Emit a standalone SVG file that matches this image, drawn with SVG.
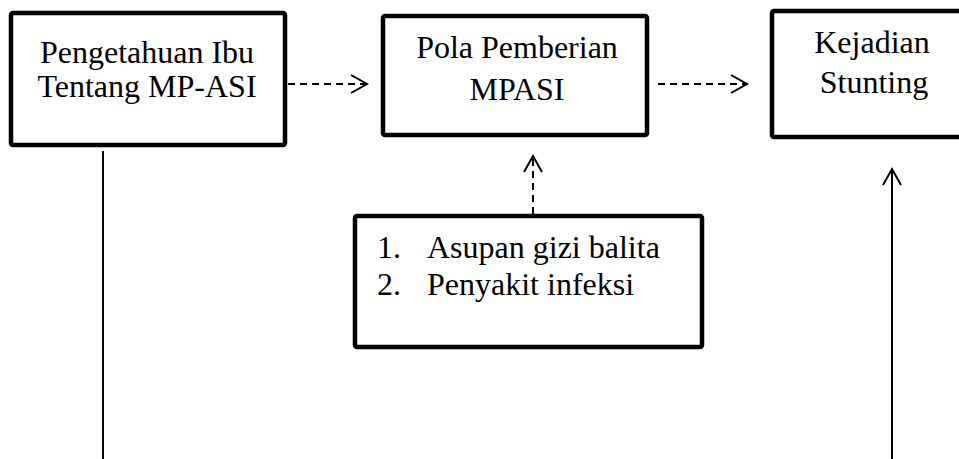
<svg xmlns="http://www.w3.org/2000/svg" width="959" height="459" viewBox="0 0 959 459">
<style>
.box{fill:#fff;stroke:#000;stroke-width:4.5;stroke-linejoin:round}
.t{font-family:"Liberation Serif","Times New Roman",serif;font-size:32px;fill:#000}
.c{text-anchor:middle}
.d{stroke:#000;stroke-width:2;stroke-dasharray:7 5;fill:none}
.s{stroke:#000;stroke-width:2;fill:none}
.h{stroke:#000;stroke-width:2;fill:none}
</style>
<rect width="959" height="459" fill="#fff"/>
<g id="connectors">
<line class="d" x1="288" y1="84" x2="366" y2="84"/>
<polyline class="h" points="351,75 367,84 351,93"/>
<line class="d" x1="658" y1="84" x2="745" y2="84"/>
<polyline class="h" points="731,75 747,84 731,93"/>
<line class="d" x1="533" y1="214" x2="533" y2="157"/>
<polyline class="h" points="524,172 533,156 542,172"/>
<line class="s" x1="103" y1="151" x2="103" y2="459"/>
<line class="s" x1="892" y1="459" x2="892" y2="169"/>
<polyline class="h" points="883,185 892,169 901,185"/>
</g>
<g id="n1">
<rect class="box" x="11" y="13" width="274" height="132" rx="2"/>
<text class="t c" x="147" y="63">Pengetahuan Ibu</text>
<text class="t c" x="147" y="97">Tentang MP-ASI</text>
</g>
<g id="n2">
<rect class="box" x="383" y="16" width="264" height="119" rx="2"/>
<text class="t c" x="517" y="58">Pola Pemberian</text>
<text class="t c" x="517" y="100">MPASI</text>
</g>
<g id="n3">
<rect class="box" x="772" y="11" width="192" height="126" rx="2"/>
<text class="t c" x="872" y="53">Kejadian</text>
<text class="t c" x="874" y="93">Stunting</text>
</g>
<g id="n4">
<rect class="box" x="355" y="216" width="347" height="131" rx="2"/>
<text class="t" x="377" y="258">1.</text>
<text class="t" x="427" y="258">Asupan gizi balita</text>
<text class="t" x="377" y="295">2.</text>
<text class="t" x="427" y="295">Penyakit infeksi</text>
</g>
</svg>
